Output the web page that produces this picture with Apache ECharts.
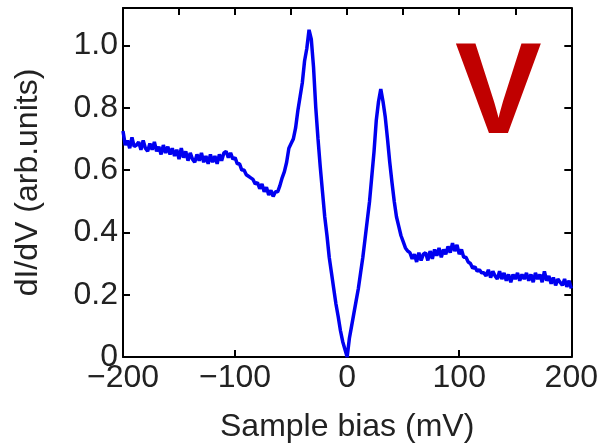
<!DOCTYPE html>
<html>
<head>
<meta charset="utf-8">
<script src="https://cdn.jsdelivr.net/npm/echarts@6/dist/echarts.min.js"></script>
<style>
html,body{margin:0;padding:0;background:#fff;}
#chart{width:601px;height:448px;}
</style>
</head>
<body>
<div id="chart"></div>
<script>
var biasMV = [-200,-198,-196,-194,-192,-190,-188,-186,-184,-182,-180,-178,-176,-174,-172,-170,-168,-166,-164,-162,-160,-158,-156,-154,-152,-150,-148,-146,-144,-142,-140,-138,-136,-134,-132,-130,-128,-126,-124,-122,-120,-118,-116,-114,-112,-110,-108,-106,-104,-102,-100,-98,-96,-94,-92,-90,-88,-86,-84,-82,-80,-78,-76,-74,-72,-70,-68,-66,-64,-62,-60,-58,-56,-54,-52,-50,-48,-46,-44,-42,-40,-38,-36,-34,-32,-30,-28,-26,-24,-22,-20,-18,-16,-14,-12,-10,-8,-6,-4,-2,0,2,4,6,8,10,12,14,16,18,20,22,24,26,28,30,32,34,36,38,40,42,44,46,48,50,52,54,56,58,60,62,64,66,68,70,72,74,76,78,80,82,84,86,88,90,92,94,96,98,100,102,104,106,108,110,112,114,116,118,120,122,124,126,128,130,132,134,136,138,140,142,144,146,148,150,152,154,156,158,160,162,164,166,168,170,172,174,176,178,180,182,184,186,188,190,192,194,196,198,200];
var dIdV = [0.725,0.68,0.695,0.67,0.705,0.675,0.68,0.69,0.665,0.695,0.67,0.66,0.685,0.665,0.69,0.66,0.675,0.65,0.68,0.655,0.675,0.65,0.67,0.645,0.665,0.635,0.67,0.64,0.66,0.63,0.655,0.635,0.625,0.65,0.63,0.655,0.625,0.645,0.62,0.65,0.625,0.645,0.62,0.65,0.63,0.655,0.66,0.64,0.655,0.635,0.64,0.62,0.62,0.60,0.60,0.585,0.58,0.575,0.57,0.555,0.56,0.54,0.555,0.53,0.545,0.52,0.535,0.515,0.53,0.53,0.55,0.575,0.595,0.625,0.67,0.685,0.70,0.735,0.79,0.835,0.88,0.95,0.99,1.05,1.02,0.93,0.80,0.70,0.61,0.53,0.45,0.39,0.32,0.27,0.22,0.17,0.13,0.085,0.05,0.025,0.0,0.06,0.10,0.14,0.18,0.22,0.27,0.32,0.38,0.44,0.50,0.58,0.66,0.76,0.82,0.86,0.82,0.77,0.70,0.625,0.56,0.50,0.45,0.42,0.39,0.37,0.35,0.34,0.335,0.315,0.33,0.305,0.335,0.31,0.33,0.335,0.31,0.34,0.315,0.345,0.325,0.35,0.32,0.345,0.33,0.355,0.335,0.365,0.34,0.36,0.33,0.345,0.32,0.32,0.305,0.30,0.285,0.29,0.275,0.28,0.27,0.27,0.26,0.28,0.255,0.275,0.26,0.25,0.275,0.25,0.27,0.245,0.265,0.24,0.265,0.25,0.27,0.245,0.265,0.25,0.27,0.245,0.265,0.24,0.27,0.25,0.265,0.24,0.275,0.245,0.26,0.235,0.255,0.23,0.25,0.24,0.23,0.25,0.225,0.245,0.22,0.24];
var xTitle = 'Sample bias (mV)';
var yTitle = 'dI/dV (arb.units)';
var panelLetter = 'V';

var points = biasMV.map(function (x, i) { return [x, dIdV[i]]; });
var FONT = 'Liberation Sans, Arial, sans-serif';
var axisLineStyle = { color: '#000', width: 2 };
var tickStyle = { inside: true, length: 7, lineStyle: { color: '#000', width: 2 } };

var chart = echarts.init(document.getElementById('chart'));
chart.setOption({
  animation: false,
  grid: { left: 123, right: 29, top: 8, bottom: 73, containLabel: false },
  xAxis: [
    {
      type: 'value', position: 'bottom', min: -200, max: 200, interval: 100,
      axisLine: { show: true, onZero: false, lineStyle: axisLineStyle },
      axisTick: tickStyle,
      splitLine: { show: false },
      axisLabel: {
        margin: 5, fontSize: 32, color: '#222', fontFamily: FONT,
        formatter: function (v) { return v < 0 ? '\u2212' + Math.abs(v) : String(v); }
      },
      name: xTitle, nameLocation: 'middle', nameGap: 54,
      nameTextStyle: { fontSize: 32, color: '#222', fontFamily: FONT }
    },
    {
      type: 'value', position: 'top', min: -200, max: 200, interval: 50,
      axisLine: { show: true, onZero: false, lineStyle: axisLineStyle },
      axisTick: tickStyle,
      splitLine: { show: false },
      axisLabel: { show: false }
    }
  ],
  yAxis: [
    {
      type: 'value', position: 'left', min: 0, max: 1.12, interval: 0.2,
      axisLine: { show: true, onZero: false, lineStyle: axisLineStyle },
      axisTick: tickStyle,
      splitLine: { show: false },
      axisLabel: {
        margin: 5, fontSize: 32, color: '#222', fontFamily: FONT, showMaxLabel: false,
        formatter: function (v) { return v === 0 ? '0' : v.toFixed(1); }
      },
      name: yTitle, nameLocation: 'middle', nameGap: 79,
      nameTextStyle: { fontSize: 32, color: '#222', fontFamily: FONT }
    },
    {
      type: 'value', position: 'right', min: 0, max: 1.12, interval: 0.2,
      axisLine: { show: true, onZero: false, lineStyle: axisLineStyle },
      axisTick: tickStyle,
      splitLine: { show: false },
      axisLabel: { show: false }
    }
  ],
  series: [{
    type: 'line', xAxisIndex: 0, yAxisIndex: 0,
    data: points, showSymbol: false, symbol: 'none',
    lineStyle: { color: '#0000f0', width: 3.5 },
    z: 3
  }],
  graphic: [{
    type: 'text', left: 455, top: 32, z: 10,
    style: {
      text: panelLetter, fill: '#c00000',
      font: 'bold 130px ' + FONT
    }
  }]
});
</script>
</body>
</html>
